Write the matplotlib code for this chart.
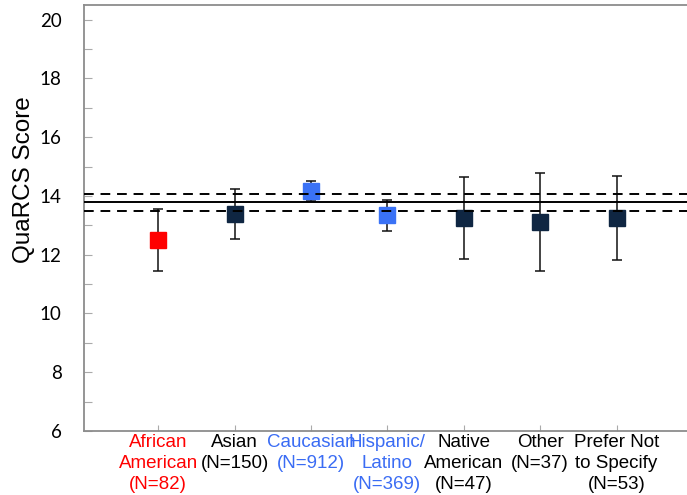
import matplotlib.pyplot as plt

# group means and error bar half-widths
groups = ['African\nAmerican\n(N=82)', 'Asian\n(N=150)', 'Caucasian\n(N=912)',
          'Hispanic/\nLatino\n(N=369)', 'Native\nAmerican\n(N=47)',
          'Other\n(N=37)', 'Prefer Not\nto Specify\n(N=53)']
means = [12.49, 13.38, 14.17, 13.34, 13.25, 13.11, 13.25]
errors = [1.05, 0.86, 0.34, 0.52, 1.39, 1.68, 1.42]
colors = ['#ff0000', '#0f2642', '#3a72f6', '#3a72f6', '#0f2642', '#0f2642', '#0f2642']
label_colors = ['#ff0000', 'black', '#3a6cf4', '#3a6cf4', 'black', 'black', 'black']

# overall mean with its band
overall_mean = 13.78
band_low = 13.50
band_high = 14.05

fig = plt.figure(figsize=(6.87, 4.95), dpi=100)
ax = fig.add_axes([0.1223, 0.1293, 0.8777, 0.8606])

x = list(range(1, len(groups) + 1))

# summary lines across the whole plot
ax.axhline(overall_mean, color='black', lw=1.4, zorder=4)
ax.axhline(band_high, color='black', lw=1.4, ls=(0, (5, 3.5)), zorder=4)
ax.axhline(band_low, color='black', lw=1.4, ls=(0, (5, 3.5)), zorder=4)

for xi, m, e, c in zip(x, means, errors, colors):
    ax.errorbar(xi, m, yerr=e, fmt='none', ecolor='#111111', elinewidth=1.1,
                capsize=3.5, capthick=1.1, zorder=2)
    ax.plot(xi, m, marker='s', ms=11, color=c, mec=c, zorder=3, ls='none')

ax.set_xlim(0.03, 0.03 + 603 / 76.4)
ax.set_ylim(6, 20.5)
ax.set_yticks([6, 8, 10, 12, 14, 16, 18, 20])
ax.set_yticks([7, 9, 11, 13, 15, 17, 19], minor=True)
ax.set_xticks(x)
ax.set_xticklabels(groups, fontsize=13.5, family='Liberation Sans', linespacing=1.3)
for lab, lc in zip(ax.get_xticklabels(), label_colors):
    lab.set_color(lc)

ax.tick_params(axis='y', which='major', direction='in', length=6, width=0.8,
               color='#aaaaaa', labelsize=13.5, pad=16)
ax.tick_params(axis='y', which='minor', direction='in', length=6, width=0.8,
               color='#aaaaaa')
ax.tick_params(axis='x', direction='in', length=4, width=0.8, color='#aaaaaa', pad=2)
for lab in ax.get_yticklabels():
    lab.set_family('Lato')

for s in ['left', 'bottom', 'top']:
    ax.spines[s].set_color('#8c8c8c')
    ax.spines[s].set_linewidth(1.3)
ax.spines['right'].set_visible(False)

ax.set_ylabel('QuaRCS Score', fontsize=17.5, family='Liberation Sans')
ax.yaxis.set_label_coords(-0.082, 0.589)

fig.savefig('out.png', dpi=100, facecolor='white')
